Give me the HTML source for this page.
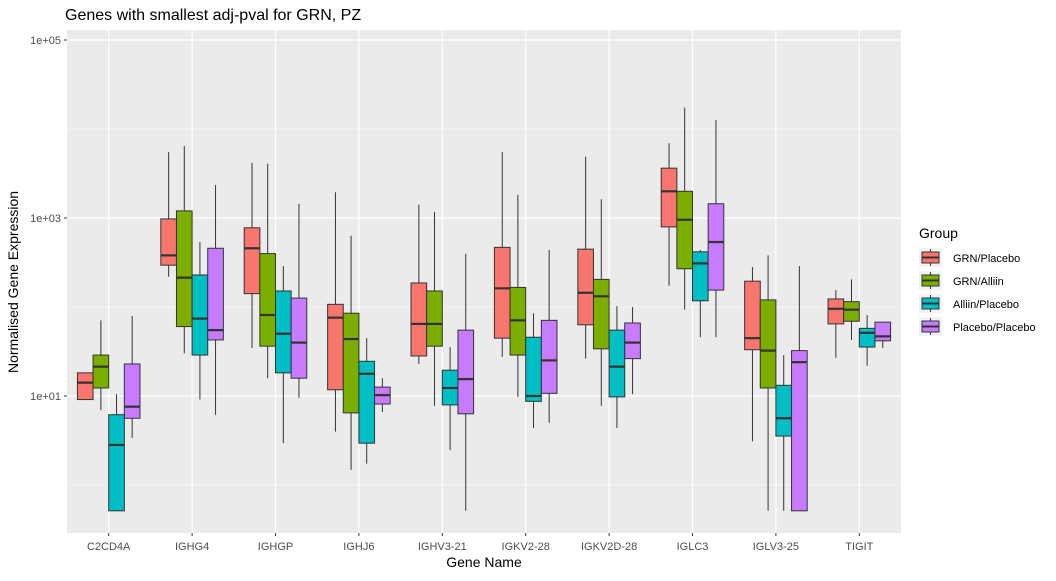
<!DOCTYPE html>
<html><head><meta charset="utf-8">
<style>
body{margin:0;background:#fff;font-family:"Liberation Sans",Arial,sans-serif;}
svg text{font-family:"Liberation Sans",Arial,sans-serif;}
</style></head>
<body>
<svg id="chart" width="1056" height="576">
<text x="65" y="20" font-size="16" fill="#000">Genes with smallest adj-pval for GRN, PZ</text>
<rect x="67" y="30" width="834" height="503" fill="#ebebeb"/>
<g id="grid"></g>
<g id="boxes"></g>
<g id="axes"></g>
<text x="484" y="567" font-size="14" text-anchor="middle">Gene Name</text>
<text transform="translate(18,282) rotate(-90)" font-size="14" text-anchor="middle">Normalised Gene Expression</text>
<g id="legend">
<text x="919" y="238" font-size="14">Group</text>
</g>
</svg>
<script>
const categories=["C2CD4A","IGHG4","IGHGP","IGHJ6","IGHV3-21","IGKV2-28","IGKV2D-28","IGLC3","IGLV3-25","TIGIT"];
const groups=["GRN/Placebo","GRN/Alliin","Alliin/Placebo","Placebo/Placebo"];
const colors=["#F8766D","#7CAE00","#00BFC4","#C77CFF"];
const yTickValues=[1,3,5];
const yTickLabels=["1e+01","1e+03","1e+05"];
// log10 expression: [lowWhisker, q1, median, q3, highWhisker], per gene per group
const grnPlacebo=[[0.96,0.96,1.15,1.26,1.26],[2.34,2.47,2.58,2.99,3.74],[1.54,2.15,2.66,2.89,3.62],[0.60,1.07,1.88,2.03,3.29],[1.36,1.45,1.81,2.27,3.15],[1.44,1.65,2.21,2.67,3.74],[1.42,1.80,2.16,2.65,3.69],[2.24,2.90,3.30,3.56,3.84],[0.49,1.52,1.65,2.29,2.45],[1.43,1.81,1.98,2.09,2.19]];
const grnAlliin=[[0.84,1.09,1.33,1.46,1.85],[1.48,1.78,2.33,3.08,3.81],[1.20,1.56,1.91,2.60,3.61],[0.17,0.81,1.64,1.93,2.80],[0.89,1.56,1.81,2.18,3.07],[0.99,1.46,1.85,2.22,3.26],[0.89,1.53,2.12,2.31,3.21],[1.97,2.43,2.98,3.30,4.24],[-0.29,1.09,1.51,2.08,2.58],[1.63,1.84,1.97,2.06,2.31]];
const alliinPlacebo=[[-0.29,-0.29,0.45,0.79,1.02],[0.96,1.46,1.87,2.36,2.73],[0.47,1.26,1.70,2.18,2.46],[0.24,0.47,1.25,1.39,1.65],[0.39,0.90,1.09,1.29,1.55],[0.64,0.94,1.00,1.66,1.93],[0.64,0.99,1.33,1.74,2.01],[1.66,2.07,2.49,2.62,2.64],[-0.29,0.55,0.75,1.12,1.46],[1.34,1.55,1.71,1.76,1.91]];
const placeboPlacebo=[[0.53,0.75,0.88,1.36,1.90],[0.79,1.63,1.74,2.66,3.37],[0.98,1.20,1.60,2.10,3.16],[0.82,0.91,1.01,1.10,1.20],[-0.29,0.80,1.19,1.74,2.60],[0.70,1.03,1.40,1.85,2.64],[1.02,1.42,1.60,1.82,2.00],[1.66,2.19,2.73,3.16,4.10],[-0.29,-0.29,1.38,1.51,2.46],[1.54,1.62,1.67,1.83,1.83]];
const series=[grnPlacebo,grnAlliin,alliinPlacebo,placeboPlacebo];

const NS="http://www.w3.org/2000/svg";
const PL=67,PR=901,PT=30,PB=533;
const step=(PR-PL)/categories.length;
function xScale(i){return PL+step*(i+0.5);}
function yScale(l){return 396-(l-1)*89;}
function mk(tag,attrs,parent){const e=document.createElementNS(NS,tag);for(const k in attrs)e.setAttribute(k,attrs[k]);parent.appendChild(e);return e;}
const grid=document.getElementById('grid'),boxes=document.getElementById('boxes'),axes=document.getElementById('axes'),legend=document.getElementById('legend');
for(let l=0;l<=5;l++){const y=yScale(l);if(y<PT||y>PB)continue;
 const g=mk('line',{x1:PL,x2:PR,y1:y,y2:y,stroke:'#fff','stroke-width':yTickValues.includes(l)?1.2:0.6},grid);
 
 }
categories.forEach((c,i)=>{const x=xScale(i);
 const g=mk('line',{x1:x,x2:x,y1:PT,y2:PB,stroke:'#fff','stroke-width':1.2},grid);
 
 
 const t=mk('text',{x:x,y:550,'font-size':11,'text-anchor':'middle',fill:'#4d4d4d'},axes);t.textContent=c;
 
 
 mk('line',{x1:x,x2:x,y1:PB,y2:PB+3,stroke:'#333'},axes);});
yTickValues.forEach((v,i)=>{const y=yScale(v);
 const t=mk('text',{x:61,y:y+4,'font-size':11,'text-anchor':'end',fill:'#4d4d4d'},axes);t.textContent=yTickLabels[i];
 
 
 mk('line',{x1:PL-3,x2:PL,y1:y,y2:y,stroke:'#333'},axes);});
const dodge=step*0.75,bw=dodge/4;
categories.forEach((c,i)=>{series.forEach((s,g)=>{const d=s[i];
 const cx=xScale(i)-dodge/2+bw*(g+0.5);
 const grp=mk('g',{},boxes);
 
 
 mk('line',{x1:cx,x2:cx,y1:yScale(d[0]),y2:yScale(d[4]),stroke:'#333','stroke-width':1},grp);
 mk('rect',{x:cx-bw/2,y:yScale(d[3]),width:bw,height:Math.max(0.5,yScale(d[1])-yScale(d[3])),fill:colors[g],stroke:'#333','stroke-width':1},grp);
 mk('line',{x1:cx-bw/2,x2:cx+bw/2,y1:yScale(d[2]),y2:yScale(d[2]),stroke:'#333','stroke-width':2.2},grp);
});});
groups.forEach((gname,g)=>{const y=248+g*23;
 const it=mk('g',{},legend);
 
 
 mk('rect',{x:919,y:y,width:23,height:19,fill:'#f2f2f2'},it);
 mk('line',{x1:930.5,x2:930.5,y1:y+1,y2:y+18,stroke:'#333'},it);
 mk('rect',{x:922,y:y+4,width:17,height:11,fill:colors[g],stroke:'#333'},it);
 mk('line',{x1:922,x2:939,y1:y+9.5,y2:y+9.5,stroke:'#333','stroke-width':2},it);
 const t=mk('text',{x:953,y:y+14,'font-size':11},it);t.textContent=gname;});
</script>
</body></html>
